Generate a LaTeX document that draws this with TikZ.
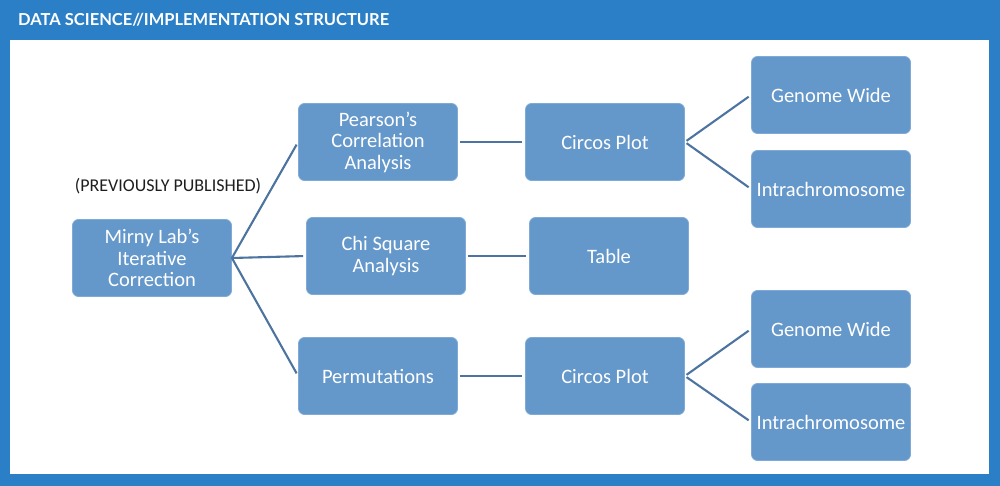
\documentclass[tikz,border=0pt]{standalone}
\usepackage{fontspec}
\setmainfont{Carlito}
\newfontfamily\titlefont{Lato}
\usetikzlibrary{positioning}
\definecolor{frameBlue}{HTML}{2A7FC6}
\definecolor{boxBlue}{HTML}{6497CA}
\definecolor{boxEdge}{HTML}{7FA9D6}
\definecolor{lineBlue}{HTML}{4D74A0}
\definecolor{textDark}{HTML}{1E1E1E}
\tikzset{
  stagebox/.style={rectangle, rounded corners=6pt, draw=boxEdge, fill=boxBlue,
                   text=white, align=center, inner sep=0pt, line width=0.8pt,
                   minimum width=159pt, minimum height=77pt,
                   font=\fontsize{20.5}{21.5}\selectfont},
  link/.style={lineBlue, line width=2.1pt, shorten <=2pt, shorten >=3pt},
}
\begin{document}
\begin{tikzpicture}[x=1pt, y=-1pt]
    \useasboundingbox (0,0) rectangle (1000,486);
    % frame
    \fill[frameBlue] (0,0) rectangle (1000,486);
    \fill[white] (10,40) rectangle (989,474);
    \node[anchor=west, text=white, font=\titlefont\bfseries\fontsize{16.5}{20}\selectfont,
          inner sep=0pt] (title) at (18,20) {DATA SCIENCE//IMPLEMENTATION STRUCTURE};
    % first column
    \node[stagebox] (mirny) at (152,258) {Mirny Lab's\\Iterative\\Correction};
    \node[text=textDark, font=\fontsize{18}{20}\selectfont, inner sep=0pt]
          (prev) at (168,186) {(PREVIOUSLY PUBLISHED)};
    % analyses
    \node[stagebox] (pearson) at (378,142) {Pearson's\\Correlation\\Analysis};
    \node[stagebox] (chi) at (386,256) {Chi Square\\Analysis};
    \node[stagebox] (perm) at (378,376) {Permutations};
    % outputs
    \node[stagebox] (circosA) at (605,142) {Circos Plot};
    \node[stagebox] (table) at (609,256) {Table};
    \node[stagebox] (circosB) at (605,376) {Circos Plot};
    % views
    \node[stagebox] (genomeA) at (831,95) {Genome Wide};
    \node[stagebox] (intraA) at (831,189) {Intrachromosome};
    \node[stagebox] (genomeB) at (831,329) {Genome Wide};
    \node[stagebox] (intraB) at (831,422) {Intrachromosome};
    % connectors
    \draw[link, shorten <=0pt] (mirny.east) -- (pearson.west);
    \draw[link, shorten <=0pt] (mirny.east) -- (chi.west);
    \draw[link, shorten <=0pt] (mirny.east) -- (perm.west);
    \draw[link] (pearson) -- (circosA);
    \draw[link] (chi) -- (table);
    \draw[link] (perm) -- (circosB);
    \draw[link] (circosA.east) -- (genomeA.west);
    \draw[link] (circosA.east) -- (intraA.west);
    \draw[link] (circosB.east) -- (genomeB.west);
    \draw[link] (circosB.east) -- (intraB.west);
\end{tikzpicture}
\end{document}
